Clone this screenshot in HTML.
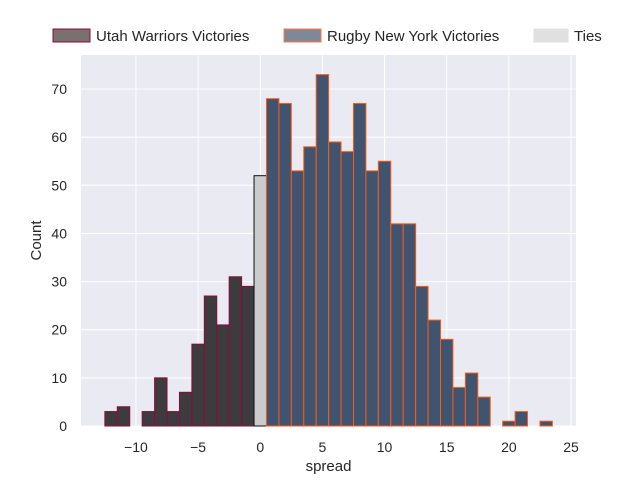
<!DOCTYPE html>
<html><head><meta charset="utf-8"><style>
body{margin:0;background:#fff;font-family:"Liberation Sans","DejaVu Sans",sans-serif}
svg text{font-family:"Liberation Sans","DejaVu Sans",sans-serif;fill:#262626}
</style></head><body>
<svg id="c" width="640" height="480"></svg>
<script>
const utahBins=[-12,-11,-10,-9,-8,-7,-6,-5,-4,-3,-2,-1];
const utahCounts=[3,4,0,3,10,3,7,17,27,21,31,29];
const tieBins=[0];
const tieCounts=[52];
const nyBins=[1,2,3,4,5,6,7,8,9,10,11,12,13,14,15,16,17,18,19,20,21,22,23];
const nyCounts=[68,67,53,58,73,59,57,67,53,55,42,42,29,22,18,8,11,6,0,1,3,0,1];
const xTicks=[-10,-5,0,5,10,15,20,25];
const yTicks=[0,10,20,30,40,50,60,70];

const L=81,R=576,T=55,B=426;
const xmin=-14.42,xmax=25.4,ymax=77.07;
const X=v=>L+(v-xmin)/(xmax-xmin)*(R-L);
const Y=v=>B-v/ymax*(B-T);
const svg=document.getElementById('c');
const NS='http://www.w3.org/2000/svg';
function mk(t,a,p){const e=document.createElementNS(NS,t);for(const k in a)e.setAttribute(k,a[k]);(p||svg).appendChild(e);return e;}
const bg=mk('rect',{x:L,y:T,width:R-L,height:B-T,fill:'#eaeaf2'});


xTicks.forEach(t=>{
  const g=mk('line',{x1:X(t),x2:X(t),y1:T,y2:B,stroke:'#fff','stroke-width':1});
  
  
  const l=mk('text',{x:X(t),y:B+26,'font-size':14,'text-anchor':'middle'});
  l.textContent=t<0?'\u2212'+(-t):String(t);
  
  
});
yTicks.forEach(t=>{
  const g=mk('line',{x1:L,x2:R,y1:Y(t),y2:Y(t),stroke:'#fff','stroke-width':1});
  
  
  const l=mk('text',{x:L-14,y:Y(t)+5,'font-size':14,'text-anchor':'end'});
  l.textContent=t;
  
  
});
function bars(bins,counts,fill,edge,name){
  bins.forEach((b,i)=>{
    if(!counts[i])return;
    const r=mk('rect',{x:X(b-0.5),y:Y(counts[i]),width:X(b+0.5)-X(b-0.5),height:B-Y(counts[i]),fill:fill,stroke:edge,'stroke-width':1});
    
    
  });
}
bars(utahBins,utahCounts,'#3d3b3d','#8b0c3c','utah-bar');
bars(tieBins,tieCounts,'#cbcbcd','#111','tie-bar');
bars(nyBins,nyCounts,'#40536f','#ff5a14','rugby-ny-bar');
const xl=mk('text',{x:(L+R)/2,y:471,'font-size':15,'text-anchor':'middle'});
xl.textContent='spread';


const yl=mk('text',{x:0,y:0,'font-size':15,'text-anchor':'middle',transform:'translate(41,'+((T+B)/2)+') rotate(-90)'});
yl.textContent='Count';


const leg=[[53,37,'#7a7072','#8b0c3c','Utah Warriors Victories'],[284,37,'#7f8799','#ff7a40','Rugby New York Victories'],[534,34,'#e0e0e0','#e0e0e0','Ties']];
leg.forEach(e=>{
  const g=mk('g',{});
  
  
  mk('rect',{x:e[0],y:29,width:e[1],height:13,fill:e[2],stroke:e[3],'stroke-width':1},g);
  const t=mk('text',{x:e[0]+e[1]+6,y:41,'font-size':15},g);
  t.textContent=e[4];
});
</script>
</body></html>
